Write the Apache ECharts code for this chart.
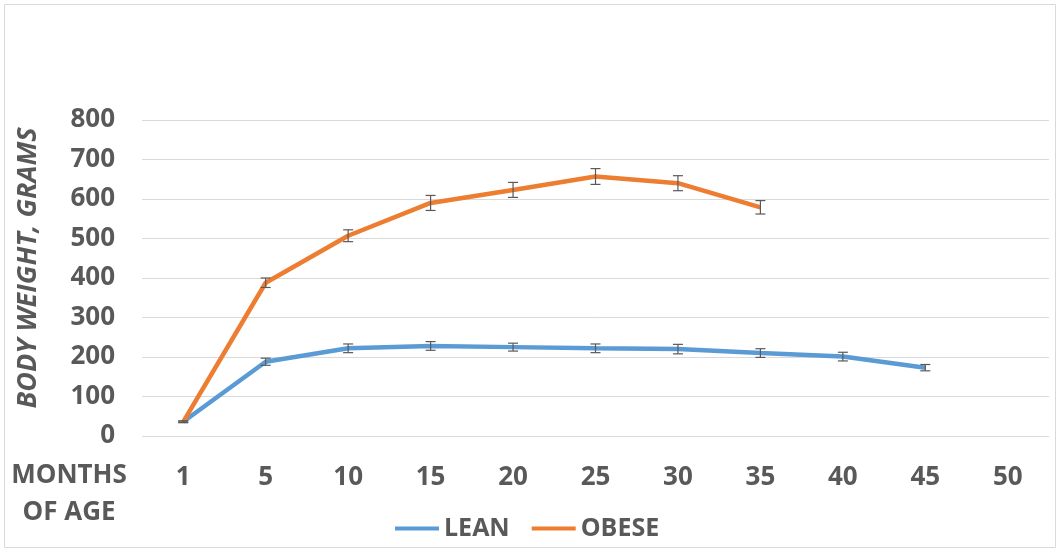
<!DOCTYPE html>
<html>
<head>
<meta charset="utf-8">
<script src="https://cdn.jsdelivr.net/npm/echarts@6/dist/echarts.min.js"></script>
<style>
html,body{margin:0;padding:0;background:#fff;}
#c{width:1061px;height:552px;}
</style>
</head>
<body>
<div id="c"></div>
<script>
var categories = ['1','5','10','15','20','25','30','35','40','45','50'];
var leanValues = [36, 188, 222, 228, 225, 222, 220, 210, 201, 173, null];
var leanErrors = [2, 9, 11, 11, 10, 11, 12, 11, 11, 8, null];
var obeseValues = [36, 388, 507, 590, 623, 657, 640, 579, null, null, null];
var obeseErrors = [2, 12, 15, 19, 19, 20, 19, 17, null, null, null];
var yTicks = [0, 100, 200, 300, 400, 500, 600, 700, 800];

var FONT = '"Open Sans", "Liberation Sans", sans-serif';
var TXT = '#595959';

function errData(vals, errs) {
  var out = [];
  for (var i = 0; i < vals.length; i++) {
    if (vals[i] != null && errs[i] != null) out.push([i, vals[i] - errs[i], vals[i] + errs[i]]);
  }
  return out;
}
function errRender(params, api) {
  var x = api.value(0);
  var lo = api.coord([x, api.value(1)]);
  var hi = api.coord([x, api.value(2)]);
  var w = 5;
  var st = {stroke: '#595959', lineWidth: 1.2};
  return {
    type: 'group',
    children: [
      {type: 'line', shape: {x1: lo[0], y1: lo[1], x2: hi[0], y2: hi[1]}, style: st},
      {type: 'line', shape: {x1: lo[0] - w, y1: lo[1], x2: lo[0] + w, y2: lo[1]}, style: st},
      {type: 'line', shape: {x1: hi[0] - w, y1: hi[1], x2: hi[0] + w, y2: hi[1]}, style: st}
    ]
  };
}

var chart = echarts.init(document.getElementById('c'), null, {renderer: 'canvas'});
chart.setOption({
  animation: false,
  backgroundColor: '#fff',
  grid: {left: 142, right: 12, top: 120, bottom: 116, containLabel: false},
  legend: {
    data: ['LEAN', 'OBESE'],
    top: 511,
    left: 390,
    itemWidth: 44,
    itemHeight: 4,
    itemGap: 22,
    icon: 'rect',
    textStyle: {fontFamily: FONT, fontWeight: 'bold', fontSize: 25, color: TXT}
  },
  xAxis: {
    type: 'category',
    data: categories,
    boundaryGap: true,
    axisLine: {show: false},
    axisTick: {show: false},
    axisLabel: {fontFamily: FONT, fontWeight: 'bold', fontSize: 26, color: TXT, margin: 29, interval: 0}
  },
  yAxis: {
    type: 'value',
    min: yTicks[0],
    max: yTicks[yTicks.length - 1],
    interval: 100,
    axisLine: {show: false},
    axisTick: {show: false},
    splitLine: {lineStyle: {color: '#d9d9d9', width: 1}},
    axisLabel: {fontFamily: FONT, fontWeight: 'bold', fontSize: 26, color: TXT, margin: 27}
  },
  graphic: [
    {type: 'rect', shape: {x: 4.5, y: 4.5, width: 1051, height: 543}, style: {fill: 'none', stroke: '#d9d9d9', lineWidth: 1}, silent: true},
    {type: 'text', x: 28, y: 268, rotation: Math.PI / 2,
     style: {text: 'BODY WEIGHT, GRAMS', fontFamily: FONT, fontWeight: 'bold', fontStyle: 'italic', fontSize: 27, fill: TXT, align: 'center', verticalAlign: 'middle'}},
    {type: 'text', x: 69, y: 494.5,
     style: {text: 'MONTHS\nOF AGE', fontFamily: FONT, fontWeight: 'bold', fontSize: 26, fill: TXT, align: 'center', verticalAlign: 'middle', lineHeight: 37}}
  ],
  series: [
    {name: 'LEAN', type: 'line', data: leanValues, showSymbol: false, symbol: 'none',
     itemStyle: {color: '#5B9BD5'}, lineStyle: {color: '#5B9BD5', width: 4.5}, z: 3},
    {name: 'OBESE', type: 'line', data: obeseValues, showSymbol: false, symbol: 'none',
     itemStyle: {color: '#ED7D31'}, lineStyle: {color: '#ED7D31', width: 4.5}, z: 3},
    {name: 'leanErr', type: 'custom', data: errData(leanValues, leanErrors), renderItem: errRender, z: 4, silent: true},
    {name: 'obeseErr', type: 'custom', data: errData(obeseValues, obeseErrors), renderItem: errRender, z: 4, silent: true}
  ]
});
</script>
</body>
</html>
